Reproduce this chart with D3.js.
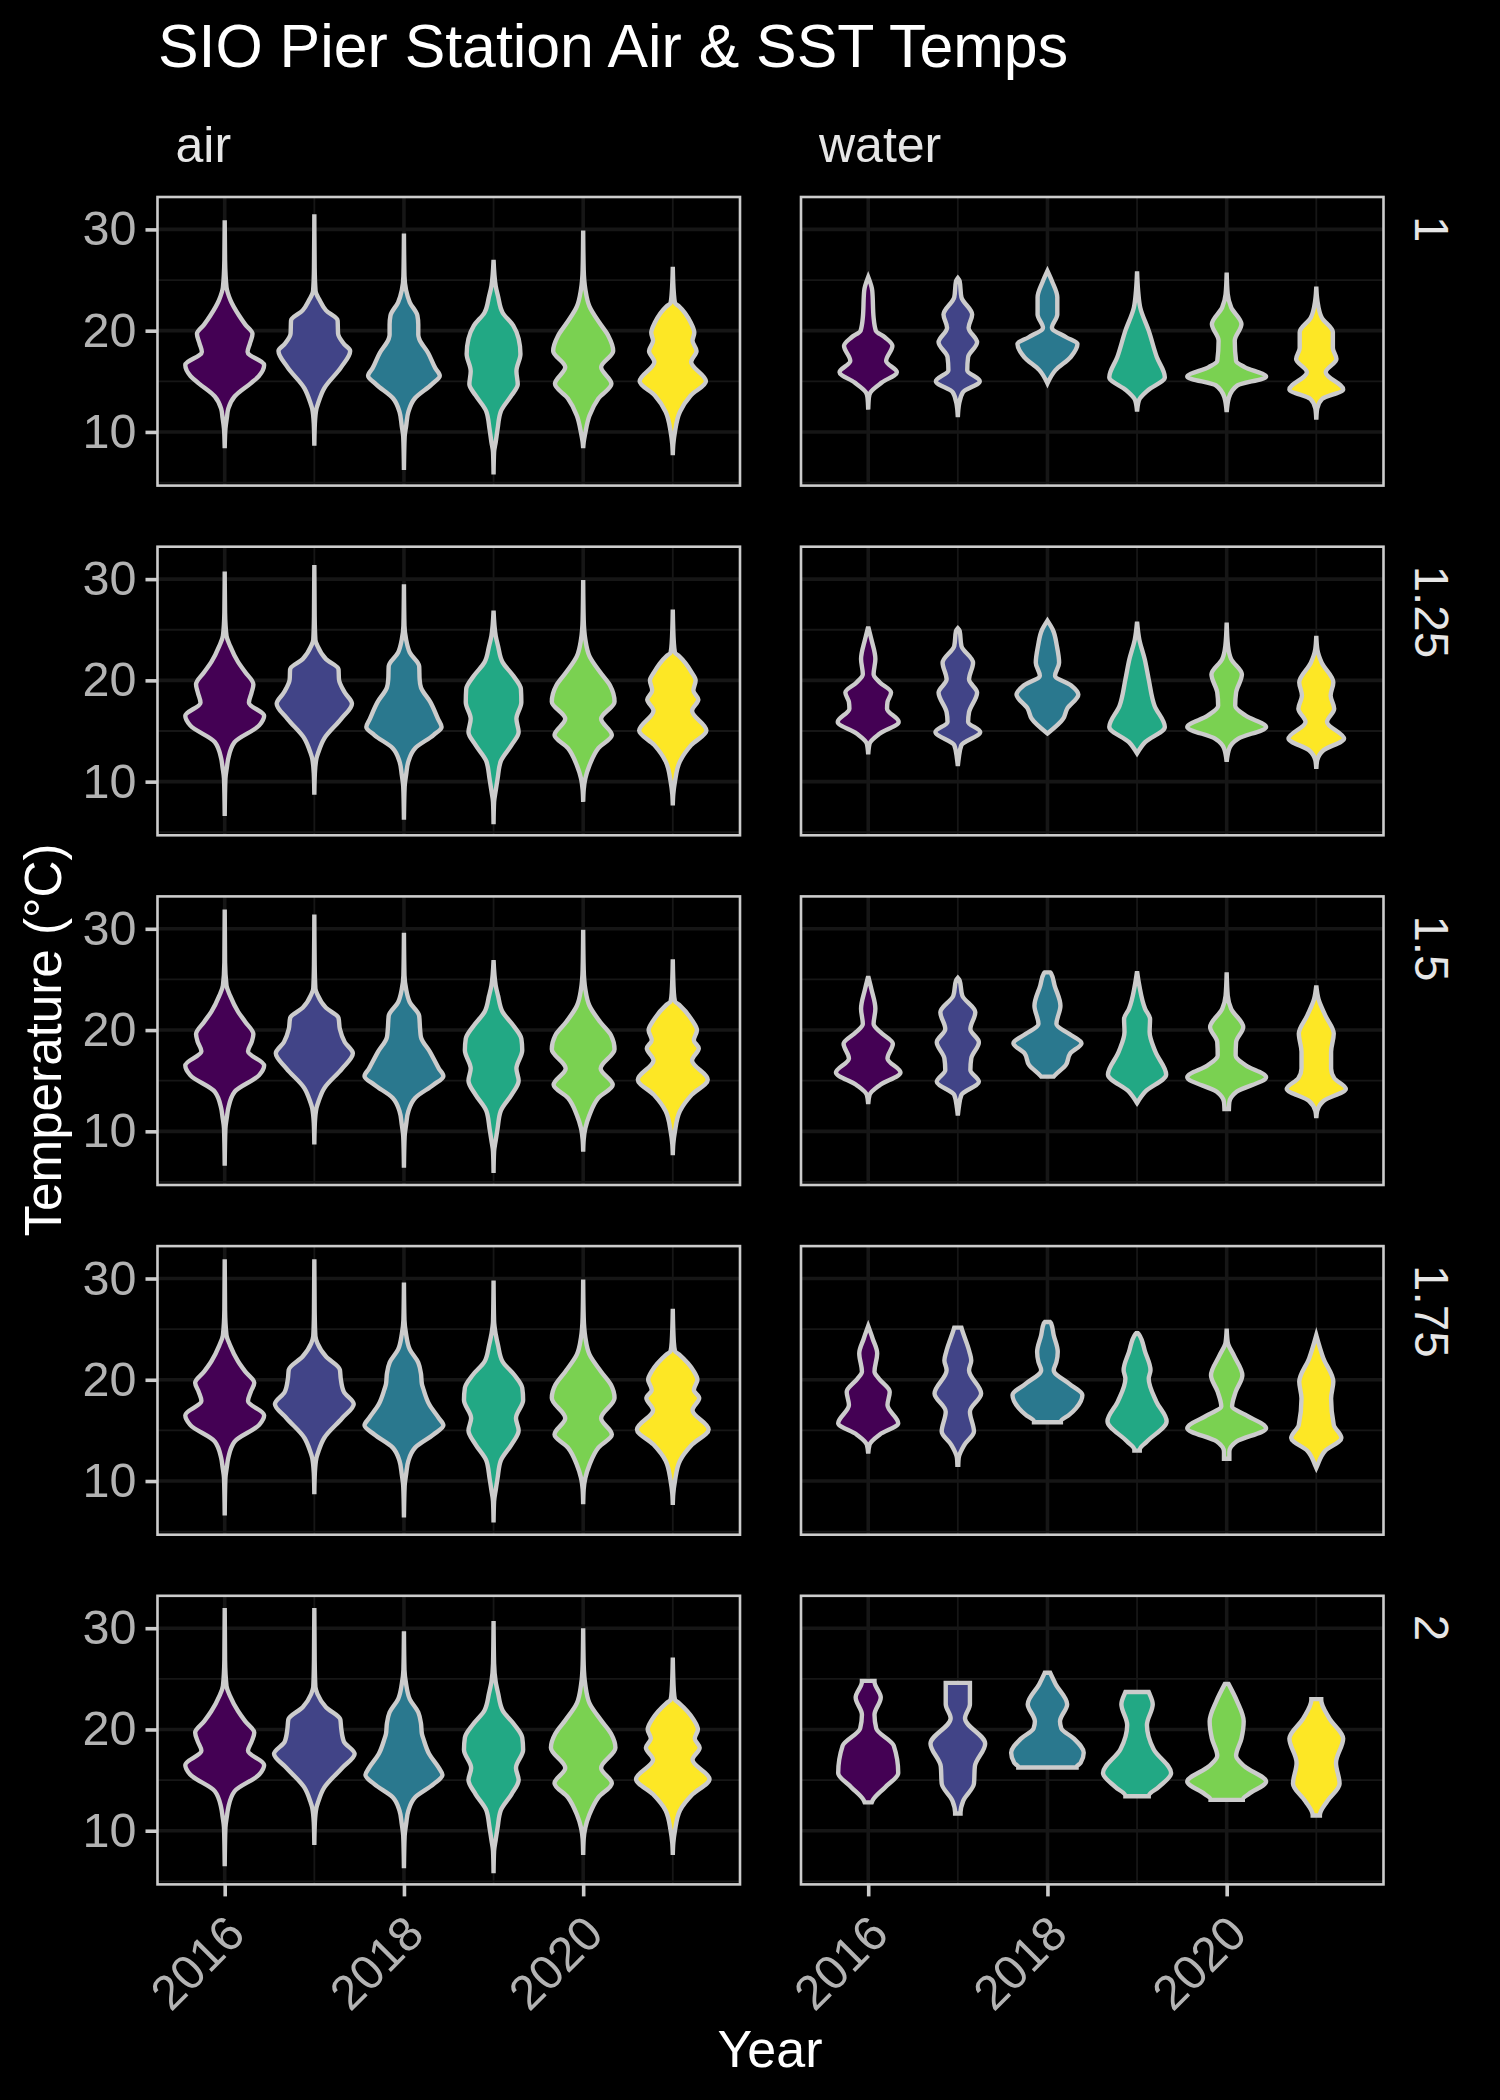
<!DOCTYPE html>
<html lang="en">
<head>
<meta charset="UTF-8">
<title>SIO Pier Station Air & SST Temps</title>
<script src="https://cdn.jsdelivr.net/npm/d3@7"></script>
<style>
    body { margin: 0; background: #000; }
    svg { display: block; }
    text { font-family: "Liberation Sans", Arial, sans-serif; }
</style>
</head>
<body>
<svg id="chart" width="1500" height="2100"></svg>
<script>
// categories and axis ticks
const years = [2016, 2017, 2018, 2019, 2020, 2021];
const measures = ["air", "water"];
const buffers = ["1", "1.25", "1.5", "1.75", "2"];
const yMajor = [10, 20, 30];
const yMinor = [5, 15, 25];
const xMajor = [2016, 2018, 2020];
const xMinor = [2017, 2019, 2021];
const colours = ["#440154", "#414487", "#2A788E", "#22A884", "#7AD151", "#FDE725"];

// each violin: [temperature, half width in years], top to bottom
const air_1 = [
    [[30.9,0],[27,.004],[24.3,.02],[23,.065],[21.5,.16],[20.6,.23],[19.7,.31],[18.7,.28],[17.9,.255],[16.6,.44],[15.5,.38],[14.8,.29],[13.5,.11],[12.3,.04],[11.4,.024],[10.3,.008],[8.4,0]],
    [[31.5,0],[26.2,.004],[23.9,.014],[23,.06],[22,.13],[21,.26],[19.7,.265],[18.7,.33],[18,.4],[16.4,.3],[14.3,.11],[12.9,.045],[12.3,.024],[10.8,.006],[8.65,0]],
    [[29.6,0],[25.4,.006],[24,.024],[22.8,.065],[21.5,.15],[20.6,.16],[19.6,.16],[19.2,.17],[17.8,.27],[16.3,.35],[15.55,.4],[14.7,.31],[13.3,.12],[12,.05],[10.55,.024],[9.5,.008],[6.25,0]],
    [[27,0],[24.4,.024],[23.4,.05],[21.8,.1],[20.5,.22],[19.2,.28],[17.7,.3],[16,.255],[14.7,.27],[13.6,.2],[12,.08],[10.3,.045],[9,.024],[8,.006],[5.8,0]],
    [[29.9,0],[26,.006],[24.1,.024],[22.4,.07],[20.8,.18],[19.5,.28],[18,.335],[16.4,.2],[14.75,.315],[13.3,.17],[11.6,.07],[9.9,.024],[9,.006],[8.4,0]],
    [[26.3,0],[23.7,.012],[22.75,.024],[22.4,.07],[20.8,.2],[19.8,.24],[19,.22],[18,.265],[16.9,.205],[15,.37],[13.6,.2],[12,.08],[10,.024],[8.8,.006],[7.7,0]]
];
const air_125 = [
    [[30.75,0],[26.7,.004],[24.4,.02],[23.4,.06],[21.8,.15],[20.8,.23],[19.6,.32],[18.8,.3],[17.8,.27],[16.5,.44],[15.55,.385],[13.9,.11],[12.3,.04],[11.4,.024],[10.3,.008],[6.6,0]],
    [[31.4,0],[26.3,.004],[24,.012],[23.4,.035],[22.1,.13],[21.1,.27],[20.1,.275],[18.8,.34],[17.7,.42],[16.2,.3],[14.25,.11],[12.9,.045],[12.3,.024],[10.8,.006],[8.7,0]],
    [[29.5,0],[25.4,.006],[24.05,.024],[22.75,.065],[21.4,.17],[20.1,.175],[19.3,.19],[17.85,.295],[16.2,.38],[15.4,.42],[14.6,.33],[13.3,.125],[12,.05],[10.65,.024],[9.5,.008],[6.25,0]],
    [[26.9,0],[24.4,.024],[23.4,.05],[21.8,.1],[20.45,.22],[19.15,.305],[17.85,.31],[16.2,.255],[14.9,.28],[13.6,.2],[12,.08],[10.3,.045],[9.1,.024],[8,.006],[5.8,0]],
    [[29.9,0],[26,.006],[24.05,.024],[22.4,.07],[20.8,.19],[19.5,.3],[17.9,.35],[16.2,.2],[14.6,.32],[13.3,.17],[11.6,.07],[10.3,.024],[9.2,.006],[8,0]],
    [[27,0],[23.7,.012],[22.75,.024],[22.4,.07],[20.8,.21],[20,.255],[19,.23],[18.1,.285],[17,.215],[15.05,.375],[13.6,.205],[12,.08],[10,.024],[8.8,.006],[7.65,0]]
];
const air_15 = [
    [[31.9,0],[26.7,.004],[24.4,.02],[23.4,.06],[21.8,.15],[20.8,.23],[19.6,.32],[18.8,.3],[17.9,.26],[16.5,.44],[15.55,.385],[13.9,.11],[12.3,.04],[11.4,.024],[10.3,.008],[6.6,0]],
    [[31.4,0],[26.5,.004],[24.1,.012],[23.5,.035],[22.2,.13],[21.2,.27],[20.1,.285],[18.8,.34],[17.7,.43],[16.2,.31],[14.25,.11],[12.9,.045],[12.3,.024],[10.8,.006],[8.7,0]],
    [[29.6,0],[25.4,.006],[24.05,.024],[22.75,.065],[21.4,.17],[20.1,.18],[19.3,.19],[17.85,.29],[16.2,.39],[15.45,.44],[14.6,.33],[13.3,.125],[12,.05],[10.65,.024],[9.5,.008],[6.4,0]],
    [[26.9,0],[24.4,.024],[23.4,.05],[21.8,.1],[20.45,.22],[19.15,.31],[18,.32],[16.2,.255],[15,.28],[13.6,.2],[12,.08],[10.3,.045],[9.1,.024],[8,.006],[5.9,0]],
    [[29.9,0],[26,.006],[24.05,.024],[22.4,.07],[20.8,.19],[19.5,.31],[18.1,.35],[16.2,.195],[14.6,.33],[13.3,.17],[11.6,.07],[10.3,.024],[9.2,.006],[8,0]],
    [[27,0],[23.7,.012],[22.85,.024],[22.5,.07],[20.9,.22],[20,.27],[19,.235],[18.2,.29],[17,.215],[15.1,.39],[13.6,.21],[12,.08],[10,.024],[8.8,.006],[7.65,0]]
];
const air_175 = [
    [[31.9,0],[26.9,.004],[24.4,.02],[23.4,.06],[21.8,.15],[20.8,.23],[19.7,.33],[18.8,.29],[17.9,.26],[16.5,.44],[15.55,.385],[13.9,.11],[12.3,.04],[11.4,.024],[10.3,.008],[6.6,0]],
    [[31.9,0],[26.7,.004],[24.3,.012],[23.6,.035],[22.3,.13],[21,.285],[20.1,.295],[18.8,.33],[17.6,.44],[16.2,.31],[14.25,.11],[12.9,.045],[12.3,.024],[10.8,.006],[8.7,0]],
    [[29.6,0],[25.9,.006],[24.5,.024],[23,.065],[21.7,.16],[20.6,.19],[19.6,.2],[19,.22],[17.6,.28],[16.2,.39],[15.5,.44],[14.6,.33],[13.3,.125],[12,.05],[10.65,.024],[9.5,.008],[6.4,0]],
    [[29.8,0],[25.8,.006],[24.5,.024],[23.4,.05],[21.8,.1],[20.5,.23],[19.2,.32],[18,.33],[16.2,.25],[15,.28],[13.6,.2],[12,.08],[10.3,.045],[9.1,.024],[8,.006],[5.9,0]],
    [[29.9,0],[26.2,.006],[24.2,.024],[22.5,.07],[20.8,.2],[19.5,.31],[18.2,.35],[16.2,.2],[14.6,.32],[13.3,.17],[11.6,.07],[10.3,.024],[9.2,.006],[7.7,0]],
    [[27,0],[23.7,.012],[22.85,.024],[22.5,.07],[20.9,.23],[20,.275],[19,.235],[18.2,.295],[17,.22],[15.1,.4],[13.6,.215],[12,.08],[10,.024],[8.8,.006],[7.65,0]]
];
const air_2 = [
    [[32,0],[26.9,.004],[24.3,.02],[23.3,.06],[21.8,.15],[20.8,.23],[19.7,.33],[18.8,.3],[17.9,.26],[16.5,.44],[15.55,.385],[13.9,.11],[12.3,.04],[11.4,.024],[10.3,.008],[6.5,0]],
    [[32,0],[26.9,.004],[24.2,.012],[23.5,.035],[22.2,.13],[21,.29],[20.1,.3],[18.8,.33],[17.6,.45],[16.2,.31],[14.25,.11],[12.9,.045],[12.3,.024],[10.8,.006],[8.6,0]],
    [[29.7,0],[25.9,.006],[24.5,.024],[23,.065],[21.7,.16],[20.6,.19],[19.6,.2],[19,.22],[17.6,.28],[16.2,.39],[15.5,.43],[14.6,.33],[13.3,.125],[12,.05],[10.65,.024],[9.5,.008],[6.3,0]],
    [[30.7,0],[26.5,.006],[24.7,.024],[23.6,.05],[21.9,.1],[20.5,.23],[19.2,.32],[18,.33],[16.2,.25],[15,.28],[13.6,.2],[12,.08],[10.3,.045],[9.1,.024],[8,.006],[5.8,0]],
    [[30,0],[26.4,.006],[24.4,.024],[22.6,.07],[20.9,.2],[19.6,.31],[18.2,.36],[16.2,.2],[14.7,.32],[13.3,.17],[11.6,.07],[10.3,.024],[9.2,.006],[7.6,0]],
    [[27.1,0],[23.8,.012],[22.95,.024],[22.6,.07],[21,.23],[20,.28],[19.1,.245],[18.2,.3],[17,.22],[15.1,.41],[13.6,.22],[12,.08],[10,.024],[8.8,.006],[7.6,0]]
];
const water_1 = [
    [[25.3,0],[23.95,.045],[21.3,.06],[20,.085],[19.35,.185],[18.5,.27],[17,.2],[15.9,.32],[14.9,.155],[13.9,.025],[13.4,.008],[12.2,0]],
    [[25.2,0],[24.9,.02],[23.3,.04],[21.6,.16],[20.3,.12],[18.85,.215],[17.4,.115],[16.1,.105],[15,.245],[13.9,.055],[12.8,.015],[11.45,0]],
    [[25.9,0],[24.9,.05],[23.3,.11],[21.6,.11],[20.3,.05],[19.35,.21],[18.7,.335],[17.4,.26],[16.1,.09],[14.8,0]],
    [[25.85,0],[23.95,.012],[22.3,.035],[20,.13],[17.4,.22],[15.4,.31],[14.1,.12],[13.1,.02],[12,0]],
    [[25.75,0],[23.6,.012],[22.3,.05],[20.65,.165],[19,.09],[17,.105],[16.4,.2],[15.45,.44],[14.6,.12],[13.4,.025],[11.95,0]],
    [[24.35,0],[23,.012],[21.3,.06],[19.85,.185],[18.3,.185],[17.2,.225],[15.9,.105],[14.2,.3],[13.25,.065],[12.3,.01],[11.2,0]]
];
const water_125 = [
    [[25.3,0],[24.05,.035],[22.1,.08],[20.6,.06],[19.8,.13],[18.8,.255],[17.85,.215],[17.2,.21],[15.9,.34],[14.75,.13],[13.75,.015],[12.7,0]],
    [[25.15,0],[24.9,.02],[23.4,.04],[21.75,.17],[20.1,.125],[18.8,.215],[16.85,.125],[15.9,.115],[14.9,.25],[13.6,.04],[12.3,.01],[11.55,0]],
    [[25.9,0],[25,.06],[23.4,.105],[21.75,.13],[20.45,.085],[19.5,.265],[18.6,.345],[17.2,.22],[16.2,.175],[14.75,0]],
    [[25.8,0],[24.05,.025],[22.1,.085],[20.1,.13],[17.5,.195],[15.4,.31],[13.9,.09],[12.8,0]],
    [[25.7,0],[23.4,.015],[22.1,.05],[20.6,.17],[18.8,.105],[17.5,.095],[16.5,.215],[15.4,.44],[14.25,.13],[13.3,.03],[11.95,0]],
    [[24.4,0],[23.05,.012],[21.75,.06],[19.8,.19],[18.5,.16],[17.2,.2],[15.9,.12],[14.25,.31],[13.1,.08],[12.1,.01],[11.25,0]]
];
const water_15 = [
    [[25.3,0],[24.05,.035],[22.1,.08],[20.6,.06],[19.8,.135],[18.65,.275],[17.2,.215],[15.8,.36],[14.6,.135],[13.6,.015],[12.7,0]],
    [[25.15,0],[24.9,.02],[23.4,.05],[21.75,.195],[20.1,.14],[18.8,.235],[17.2,.15],[16.05,.14],[14.9,.235],[13.6,.04],[12.3,.01],[11.55,0]],
    [[25.7,.03],[25.6,.04],[24.4,.08],[22.4,.145],[20.6,.1],[19.6,.245],[18.7,.38],[17.7,.255],[16.55,.205],[15.5,.08],[15.4,.07]],
    [[25.8,0],[24.4,.025],[22.1,.09],[21.1,.145],[19.8,.14],[17.85,.205],[15.6,.325],[13.9,.09],[12.8,0]],
    [[25.7,0],[23.4,.012],[22.1,.05],[20.3,.185],[18.8,.105],[17.5,.1],[16.5,.215],[15.35,.44],[13.9,.11],[12.9,.03],[12.2,.025]],
    [[24.4,0],[23.05,.025],[21.45,.1],[19.65,.195],[17.85,.165],[16.2,.165],[15.25,.2],[14.2,.33],[13,.08],[12,.01],[11.3,0]]
];
const water_175 = [
    [[25.3,0],[24.05,.05],[22.6,.1],[20.8,.07],[20.1,.12],[18.8,.24],[17.5,.215],[15.7,.335],[14.6,.13],[13.6,.015],[12.7,0]],
    [[25.15,.04],[25,.045],[22.75,.13],[21.9,.15],[20.95,.125],[18.65,.26],[16.85,.135],[14.9,.18],[13.6,.075],[12.3,.01],[11.6,.005]],
    [[25.7,.03],[25.6,.04],[24.4,.07],[22.75,.115],[21.75,.1],[20.95,.07],[19.6,.245],[18.5,.39],[17.2,.32],[16.55,.245],[15.9,.15],[15.8,.15]],
    [[24.6,.01],[24.5,.02],[22.75,.09],[20.95,.15],[20.1,.13],[17.85,.215],[15.9,.33],[13.9,.11],[13.1,.03],[13,.03]],
    [[25.05,0],[23.7,.012],[22.4,.08],[20.45,.175],[18.8,.1],[17.35,.06],[16.55,.205],[15.2,.44],[13.9,.11],[12.9,.03],[12.2,.03]],
    [[24.4,0],[22.1,.08],[19.8,.19],[18.15,.165],[15.55,.195],[14.25,.28],[13,.1],[11.5,.01],[11.3,0]]
];
const water_2 = [
    [[24.8,.07],[24.7,.07],[23.15,.14],[21.45,.07],[20.1,.09],[18.4,.285],[15.7,.335],[14.3,.19],[13,.05],[12.8,.04]],
    [[24.6,.135],[24.5,.135],[22.5,.135],[21.1,.08],[18.6,.305],[16.35,.19],[14.65,.18],[12.95,.06],[11.8,.03],[11.7,.03]],
    [[25.6,.03],[24.5,.09],[22.5,.22],[20.8,.14],[20.1,.155],[19.1,.295],[17.7,.405],[16.7,.37],[16.3,.325],[16.25,.325]],
    [[23.7,.13],[23.6,.135],[22.5,.175],[20.45,.11],[18.05,.185],[15.7,.38],[14.3,.24],[13.45,.13],[13.4,.13]],
    [[24.5,.02],[22.8,.115],[20.8,.19],[19.1,.165],[17.4,.105],[16.35,.2],[14.85,.44],[13.65,.25],[13.1,.18],[13.05,.18]],
    [[23,.055],[22.9,.055],[21.1,.145],[19.1,.3],[16.7,.22],[14.65,.26],[12.95,.125],[11.55,.04],[11.5,.04]]
];
const air = [air_1, air_125, air_15, air_175, air_2];
const water = [water_1, water_125, water_15, water_175, water_2];

// layout
const rowTops = [197, 546.7, 896.4, 1246.1, 1595.8];
const panelH = 288.6;
const panelW = 582.5;
const panelX = [157.5, 801];

const svg = d3.select("#chart");
svg.append("rect").attr("width", 1500).attr("height", 2100).attr("fill", "#000");

const x = d3.scaleLinear().domain([2015.25, 2021.75]).range([0, panelW]);
const y = d3.scaleLinear().domain([4.7, 33.2]).range([panelH, 0]);

const violin = d3.area()
    .curve(d3.curveMonotoneY)
    .y(d => y(d[0]));

measures.forEach((m, col) => {
    const profiles = m === "air" ? air : water;
    buffers.forEach((b, row) => {
        const g = svg.append("g").attr("transform", `translate(${panelX[col]},${rowTops[row]})`);

        // grid
        g.selectAll(".ymin").data(yMinor).enter().append("line")
            .attr("x1", 0).attr("x2", panelW).attr("y1", d => y(d)).attr("y2", d => y(d))
            .attr("stroke", "#161616").attr("stroke-width", 1.8);
        g.selectAll(".xmin").data(xMinor).enter().append("line")
            .attr("y1", 0).attr("y2", panelH).attr("x1", d => x(d)).attr("x2", d => x(d))
            .attr("stroke", "#161616").attr("stroke-width", 1.8);
        g.selectAll(".ymaj").data(yMajor).enter().append("line")
            .attr("x1", 0).attr("x2", panelW).attr("y1", d => y(d)).attr("y2", d => y(d))
            .attr("stroke", "#161616").attr("stroke-width", 3.6);
        g.selectAll(".xmaj").data(xMajor).enter().append("line")
            .attr("y1", 0).attr("y2", panelH).attr("x1", d => x(d)).attr("x2", d => x(d))
            .attr("stroke", "#161616").attr("stroke-width", 3.6);

        // violins
        g.selectAll(".violin").data(profiles[row]).enter().append("path")
            .attr("d", (d, i) => violin
                .x0(p => x(years[i] - p[1]))
                .x1(p => x(years[i] + p[1]))(d))
            .attr("fill", (d, i) => colours[i])
            .attr("stroke", "#cccccc")
            .attr("stroke-width", 4.4);

        // panel border
        g.append("rect").attr("width", panelW).attr("height", panelH)
            .attr("fill", "none").attr("stroke", "#cccccc").attr("stroke-width", 2.6);

        // axes, only on the outer panels
        if (col === 0) {
            const ya = g.append("g").call(d3.axisLeft(y).tickValues(yMajor).tickSize(12).tickPadding(9));
            ya.select(".domain").remove();
            ya.selectAll("line").attr("stroke", "#cccccc").attr("stroke-width", 3.6);
            ya.selectAll("text").attr("fill", "#b3b3b3").style("font-size", "48.5px")
                .style("font-family", '"Liberation Sans", Arial, sans-serif');
        }
        if (row === buffers.length - 1) {
            const xa = g.append("g").attr("transform", `translate(0,${panelH})`)
                .call(d3.axisBottom(x).tickValues(xMajor).tickFormat(d3.format("d")).tickSize(12));
            xa.select(".domain").remove();
            xa.selectAll("line").attr("stroke", "#cccccc").attr("stroke-width", 3.6);
            xa.selectAll("text").attr("fill", "#b3b3b3").style("font-size", "48.5px")
                .style("font-family", '"Liberation Sans", Arial, sans-serif')
                .attr("text-anchor", "end").attr("x", null).attr("y", null).attr("dy", null)
                .attr("transform", "translate(22,52) rotate(-45)");
        }

        // right strip
        if (col === 1) {
            svg.append("text")
                .attr("transform", `translate(1415,${rowTops[row] + 19}) rotate(90)`)
                .attr("fill", "#e6e6e6").style("font-size", "47.5px")
                .text(b);
        }
    });

    // top strip
    svg.append("text")
        .attr("x", panelX[col] + 18).attr("y", 161.5)
        .attr("fill", "#e6e6e6").style("font-size", "50px")
        .text(m);
});

svg.append("text").attr("x", 158).attr("y", 66.5)
    .attr("fill", "#fff").style("font-size", "60.8px")
    .text("SIO Pier Station Air & SST Temps");

svg.append("text").attr("x", 770).attr("y", 2067).attr("text-anchor", "middle")
    .attr("fill", "#fff").style("font-size", "52px")
    .text("Year");

svg.append("text").attr("transform", "translate(61,1040) rotate(-90)").attr("text-anchor", "middle")
    .attr("fill", "#fff").style("font-size", "51.2px")
    .text("Temperature (°C)");
</script>
</body>
</html>
